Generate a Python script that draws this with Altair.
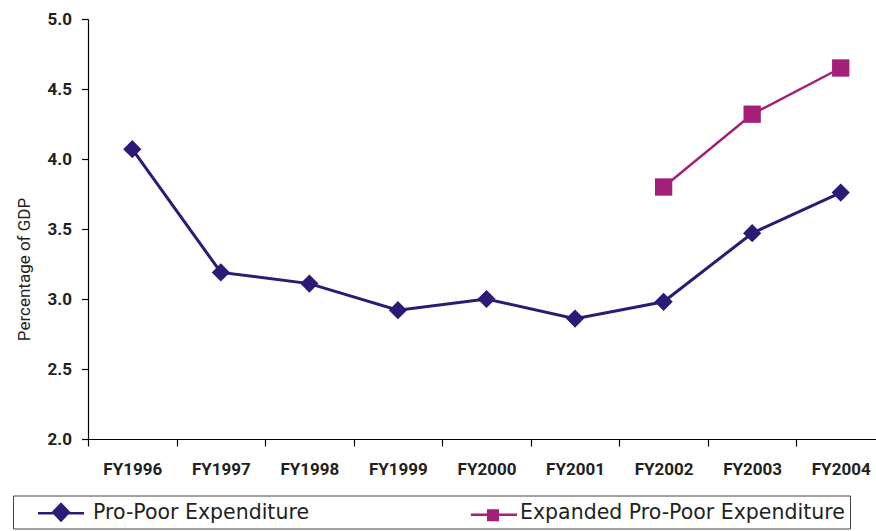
import altair as alt
import pandas as pd

# Fiscal years on the x axis
YEARS = ["FY1996", "FY1997", "FY1998", "FY1999", "FY2000",
         "FY2001", "FY2002", "FY2003", "FY2004"]

# Pro-poor expenditure, % of GDP
PRO_POOR = [4.07, 3.19, 3.11, 2.92, 3.00, 2.86, 2.98, 3.47, 3.76]

# Expanded pro-poor expenditure, % of GDP (available from FY2002)
EXPANDED_YEARS = ["FY2002", "FY2003", "FY2004"]
EXPANDED = [3.80, 4.32, 4.65]

SERIES = ["Pro-Poor Expenditure", "Expanded Pro-Poor Expenditure"]
COLORS = ["#2c1a76", "#a41f78"]
Y_TICKS = [2.0, 2.5, 3.0, 3.5, 4.0, 4.5, 5.0]

rows = [{"year": y, "series": SERIES[0], "value": v} for y, v in zip(YEARS, PRO_POOR)]
rows += [{"year": y, "series": SERIES[1], "value": v} for y, v in zip(EXPANDED_YEARS, EXPANDED)]
df = pd.DataFrame(rows)

AXIS_FONT = "Roboto, Liberation Sans, sans-serif"
LEGEND_FONT = "DejaVu Sans, sans-serif"
TEXT = "#231f20"

x_enc = alt.X(
    "year:N",
    scale=alt.Scale(type="band", domain=YEARS, range=[0, 797],
                    paddingInner=0, paddingOuter=0),
    axis=alt.Axis(title=None, labelAngle=0, tickBand="extent", tickSize=7,
                  labelFont=AXIS_FONT, labelFontWeight="bold", labelFontSize=17,
                  labelColor=TEXT, labelBaseline="alphabetic", labelPadding=28),
)
y_enc = alt.Y(
    "value:Q",
    scale=alt.Scale(domain=[2, 5], nice=False, zero=False),
    axis=alt.Axis(values=Y_TICKS, format=".1f", title="Percentage of GDP",
                  tickSize=6.5, labelPadding=10, labelFont=AXIS_FONT,
                  labelFontWeight="bold", labelFontSize=17, labelColor=TEXT,
                  titleFont=AXIS_FONT, titleFontWeight="normal", titleFontSize=17,
                  titleColor=TEXT, titleAngle=-90, titleAlign="center",
                  titleBaseline="alphabetic", titleX=-59, titleY=250),
)

base = alt.Chart(df)
pro = base.transform_filter(alt.datum.series == SERIES[0])
exp = base.transform_filter(alt.datum.series == SERIES[1])

pro_line = pro.mark_line(color=COLORS[0], strokeWidth=3).encode(x=x_enc, y=y_enc)
exp_line = exp.mark_line(color=COLORS[1], strokeWidth=2.5).encode(x=x_enc, y=y_enc)
pro_pts = pro.mark_point(shape="diamond", filled=True, size=330, opacity=1,
                         color=COLORS[0]).encode(x=x_enc, y=y_enc)
exp_pts = exp.mark_point(shape="square", filled=True, size=300, opacity=1,
                         color=COLORS[1]).encode(x=x_enc, y=y_enc)

# Legend symbols: a short line segment with the series marker on it
LEGEND_SHAPES = [
    "M0.11,-0.375L2.67,-0.375L2.67,-0.236L0.11,-0.236Z"
    "M1.39,-0.92L1.92,-0.36L1.39,0.20L0.86,-0.36Z",
    "M0.44,-0.29L3.0,-0.29L3.0,-0.15L0.44,-0.15Z"
    "M1.33,-0.53L2.0,-0.53L2.0,0.14L1.33,0.14Z",
]

legend = alt.Legend(
    title=None, orient="none", legendX=-75, legendY=476.5,
    direction="horizontal", padding=5, columnPadding=136,
    symbolSize=1296, symbolStrokeWidth=0, labelOffset=39, labelLimit=600,
    labelFont=LEGEND_FONT, labelFontSize=20.5, labelColor=TEXT,
    labelBaseline="alphabetic",
    strokeColor="#444444", fillColor="white",
    # trailing em spaces let the key's frame run past the right edge
    labelExpr="datum.value == 'Expanded Pro-Poor Expenditure' ? "
              "datum.label + '\u2003\u2003' : datum.label",
)

# Key only: no marks of its own, the entries come from the scale domains
legend_layer = base.transform_filter("false").mark_point(
    filled=True, opacity=1, size=1296
).encode(
    color=alt.Color("series:N", scale=alt.Scale(domain=SERIES, range=COLORS),
                    legend=legend),
    shape=alt.Shape("series:N", scale=alt.Scale(domain=SERIES, range=LEGEND_SHAPES),
                    legend=legend),
)

chart = alt.layer(pro_line, exp_line, pro_pts, exp_pts, legend_layer).properties(
    width=788, height=420,
    autosize=alt.AutoSizeParams(type="none"),
    padding={"left": 88, "top": 19, "right": 0, "bottom": 92},
    background="white",
).configure_view(stroke=None).configure_axis(
    grid=False, domainColor="black", domainWidth=1.2,
    tickColor="black", tickWidth=1.2,
)

chart.save("out.html", embed_options={"renderer": "svg", "actions": False})
